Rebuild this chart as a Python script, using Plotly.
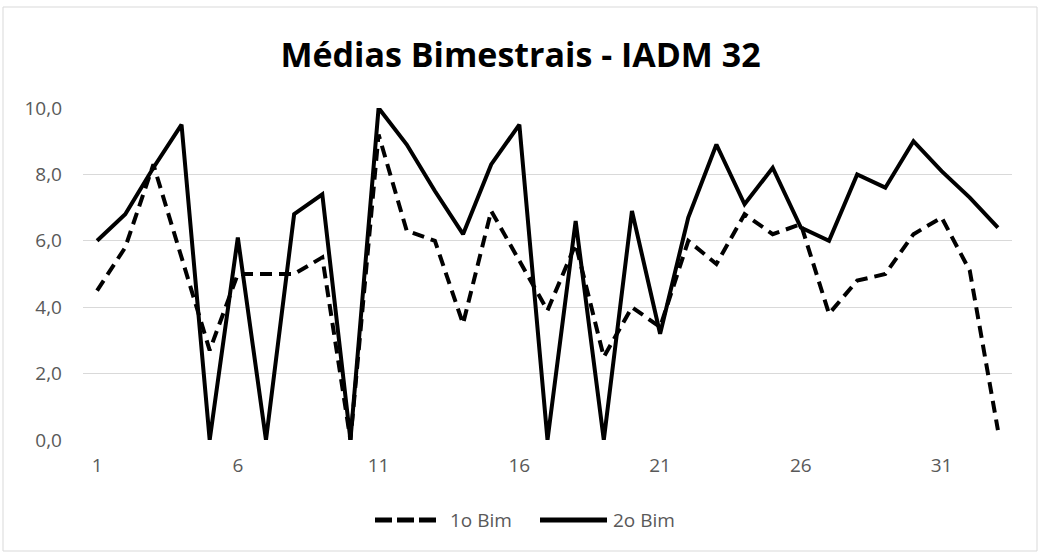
import plotly.graph_objects as go

# Alunos (número de chamada) e médias de cada bimestre
alunos = list(range(1, 34))
bim1 = [4.5, 5.8, 8.3, 5.5, 2.7, 5.0, 5.0, 5.0, 5.5, 0.0, 9.2, 6.3, 6.0, 3.5, 6.9, 5.4, 3.9,
        5.9, 2.5, 4.0, 3.4, 6.0, 5.3, 6.8, 6.2, 6.5, 3.8, 4.8, 5.0, 6.2, 6.7, 5.1, 0.3]
bim2 = [6.0, 6.8, 8.2, 9.5, 0.0, 6.1, 0.0, 6.8, 7.4, 0.0, 10.0, 8.9, 7.5, 6.2, 8.3, 9.5, 0.0,
        6.6, 0.0, 6.9, 3.2, 6.7, 8.9, 7.1, 8.2, 6.4, 6.0, 8.0, 7.6, 9.0, 8.1, 7.3, 6.4]
nomes = ["1o Bim", "2o Bim"]
x_ticks = [1, 6, 11, 16, 21, 26, 31]
y_ticks = [0, 2, 4, 6, 8, 10]

FONT = "Open Sans, sans-serif"
TXT = "#595959"
W, H = 1041, 556
ML, MR, MT, MB = 83, 29, 108, 116
pw, ph = W - ML - MR, H - MT - MB


def px_x(x):
    return (x - ML) / pw


def px_y(y):
    return (H - MB - y) / ph


estilos = [dict(color="black", width=4, dash="12px,7px"),
           dict(color="black", width=4)]

fig = go.Figure()
for nome, serie, estilo in zip(nomes, [bim1, bim2], estilos):
    fig.add_trace(go.Scatter(x=alunos, y=serie, name=nome, mode="lines",
                             line=estilo, showlegend=False))

# moldura externa do gráfico
fig.add_shape(type="rect", xref="paper", yref="paper",
              x0=px_x(3), x1=px_x(1037), y0=px_y(551), y1=px_y(7),
              line=dict(color="#d9d9d9", width=1), fillcolor="rgba(0,0,0,0)", layer="below")

# legenda desenhada abaixo do gráfico
legenda = [(375, 437, 448, dict(color="black", width=5, dash="17px,5px")),
           (540, 607, 611, dict(color="black", width=5))]
ly = px_y(520)
for nome, (a, b, t, estilo) in zip(nomes, legenda):
    fig.add_shape(type="line", xref="paper", yref="paper",
                  x0=px_x(a), x1=px_x(b), y0=ly, y1=ly, line=estilo)
    fig.add_annotation(text=nome, xref="paper", yref="paper", x=px_x(t), y=ly,
                       xanchor="left", yanchor="middle", showarrow=False,
                       font=dict(family=FONT, size=19, color=TXT))

fig.update_layout(
    width=W, height=H,
    margin=dict(l=ML, r=MR, t=MT, b=MB),
    paper_bgcolor="white", plot_bgcolor="white",
    separators=",.",
    font=dict(family=FONT, size=19, color=TXT),
    title=dict(text="<b>Médias Bimestrais - IADM 32</b>", x=0.5, xref="container",
               xanchor="center", y=(H - 55) / H, yanchor="middle",
               font=dict(family=FONT, size=34, color="black")),
    xaxis=dict(range=[0.5, 33.5], tickvals=x_ticks, showgrid=False, zeroline=False,
               showline=False, ticks="", ticklabelstandoff=12,
               tickfont=dict(family=FONT, size=19, color=TXT)),
    yaxis=dict(range=[0, 10], tickvals=y_ticks, tickformat=".1f", showgrid=True,
               gridcolor="#d9d9d9", gridwidth=1, zeroline=False, showline=False,
               ticks="", ticklabelstandoff=20,
               tickfont=dict(family=FONT, size=19, color=TXT)),
    showlegend=False,
)

fig.write_html("out.html")
